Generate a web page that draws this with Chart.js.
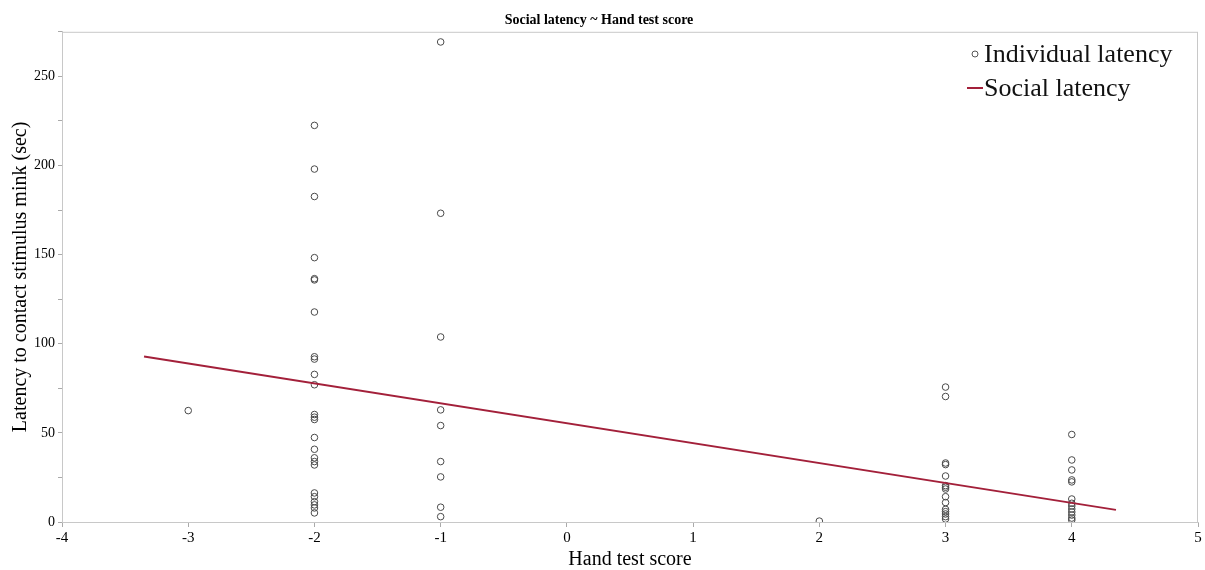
<!DOCTYPE html>
<html>
<head>
<meta charset="utf-8">
<script src="https://cdn.jsdelivr.net/npm/chart.js@4/dist/chart.umd.min.js"></script>
<style>
  html, body { margin: 0; padding: 0; background: #fff; }
</style>
</head>
<body>
<canvas id="myChart" width="1205" height="570"></canvas>
<script>
// hand test score for each animal, and its latency (sec)
var scoreX = [
  -3,
  -2, -2, -2, -2, -2, -2, -2, -2, -2, -2, -2, -2, -2, -2, -2, -2, -2, -2, -2, -2, -2, -2, -2, -2, -2,
  -1, -1, -1, -1, -1, -1, -1, -1, -1,
  2,
  3, 3, 3, 3, 3, 3, 3, 3, 3, 3, 3, 3, 3, 3, 3,
  4, 4, 4, 4, 4, 4, 4, 4, 4, 4, 4, 4, 4
];
var latencyY = [
  62.5,
  222.5, 198, 182.6, 148.3, 136.5, 135.8, 117.8, 92.7, 91.4, 82.8, 77, 60.3, 58.8, 57.5, 47.4, 40.8, 36, 33.9, 32, 16.3, 14.2, 11.4, 9.6, 7.9, 5.1,
  269.3, 173.2, 103.8, 62.9, 54.1, 33.9, 25.3, 8.3, 3,
  0.5,
  75.7, 70.4, 33.1, 32.2, 25.8, 20.4, 19.5, 18.5, 14.2, 10.9, 7.1, 5.8, 4.5, 3, 1.7,
  49.1, 34.8, 29.2, 23.6, 22.5, 12.9, 10.5, 9, 7.3, 5.6, 3.9, 2.2, 1.1
];
// fitted line end points
var fitX = [-3.35, 4.35];
var fitY = [92.9, 6.8];

var xTicks = [-4, -3, -2, -1, 0, 1, 2, 3, 4, 5];
var yTicks = [0, 25, 50, 75, 100, 125, 150, 175, 200, 225, 250, 275];

var serif = "'Liberation Serif', 'Times New Roman', serif";

var points = scoreX.map(function (x, i) { return { x: x, y: latencyY[i] }; });
var fitLine = fitX.map(function (x, i) { return { x: x, y: fitY[i] }; });

// frame round the plot and the legend inside it
var framePlugin = {
  id: "frame",
  beforeDatasetsDraw: function (chart) {
    var a = chart.chartArea;
    var c = chart.ctx;
    c.save();
    c.strokeStyle = "#c8c8c8";
    c.lineWidth = 1;
    c.strokeRect(a.left + 0.5, a.top + 0.5, a.right - a.left - 1, a.bottom - a.top);
    c.restore();
  },
  afterDraw: function (chart) {
    var c = chart.ctx;
    var ds = chart.data.datasets;
    c.save();
    c.font = "26px " + serif;
    c.fillStyle = "#111";
    c.textBaseline = "middle";
    // scatter entry
    c.beginPath();
    c.arc(975, 54, 3, 0, Math.PI * 2);
    c.strokeStyle = "#555";
    c.lineWidth = 1;
    c.stroke();
    c.fillText(ds[0].label, 984, 55);
    // line entry
    c.beginPath();
    c.moveTo(967, 88);
    c.lineTo(983, 88);
    c.strokeStyle = "#a3203a";
    c.lineWidth = 2;
    c.stroke();
    c.fillText(ds[1].label, 984, 89);
    c.restore();
  }
};

var ctx = document.getElementById("myChart").getContext("2d");
var myChart = new Chart(ctx, {
  type: "scatter",
  data: {
    datasets: [
      {
        label: "Individual latency",
        data: points,
        pointStyle: "circle",
        pointRadius: 3.3,
        pointBorderWidth: 1,
        pointBorderColor: "#4a4a4a",
        pointBackgroundColor: "rgba(0,0,0,0)",
        order: 2
      },
      {
        label: "Social latency",
        type: "line",
        data: fitLine,
        borderColor: "#a3203a",
        borderWidth: 2,
        pointRadius: 0,
        fill: false,
        order: 1
      }
    ]
  },
  options: {
    responsive: false,
    animation: false,
    layout: { padding: { left: 0, right: 7, top: 0, bottom: 0 } },
    plugins: {
      legend: { display: false },
      tooltip: { enabled: false },
      title: {
        display: true,
        text: "Social latency ~ Hand test score",
        color: "#000",
        font: { family: serif, size: 14, weight: "bold" },
        padding: { top: 12, bottom: 3 }
      }
    },
    scales: {
      x: {
        type: "linear",
        min: -4,
        max: 5,
        afterBuildTicks: function (s) { s.ticks = xTicks.map(function (v) { return { value: v }; }); },
        afterFit: function (s) { s.height = 48; },
        grid: { drawOnChartArea: false, tickLength: 5, color: "#aaa" },
        border: { color: "#c8c8c8" },
        ticks: { color: "#000", font: { family: serif, size: 15 }, padding: 2, maxRotation: 0 },
        title: {
          display: true,
          text: "Hand test score",
          color: "#000",
          font: { family: serif, size: 20, lineHeight: 1 },
          padding: { top: 0, bottom: 0 }
        }
      },
      y: {
        min: 0,
        max: 275,
        afterBuildTicks: function (s) { s.ticks = yTicks.map(function (v) { return { value: v }; }); },
        afterFit: function (s) { s.width = 62; },
        grid: { drawOnChartArea: false, tickLength: 4, color: "#aaa" },
        border: { color: "#c8c8c8" },
        ticks: {
          color: "#000",
          font: { family: serif, size: 14 },
          padding: 3,
          callback: function (v) { return v % 50 === 0 && v <= 250 ? v : ""; }
        },
        title: {
          display: true,
          text: "Latency to contact stimulus mink (sec)",
          color: "#000",
          font: { family: serif, size: 20 },
          padding: { top: 9, bottom: 0 }
        }
      }
    }
  },
  plugins: [framePlugin]
});
</script>
</body>
</html>
